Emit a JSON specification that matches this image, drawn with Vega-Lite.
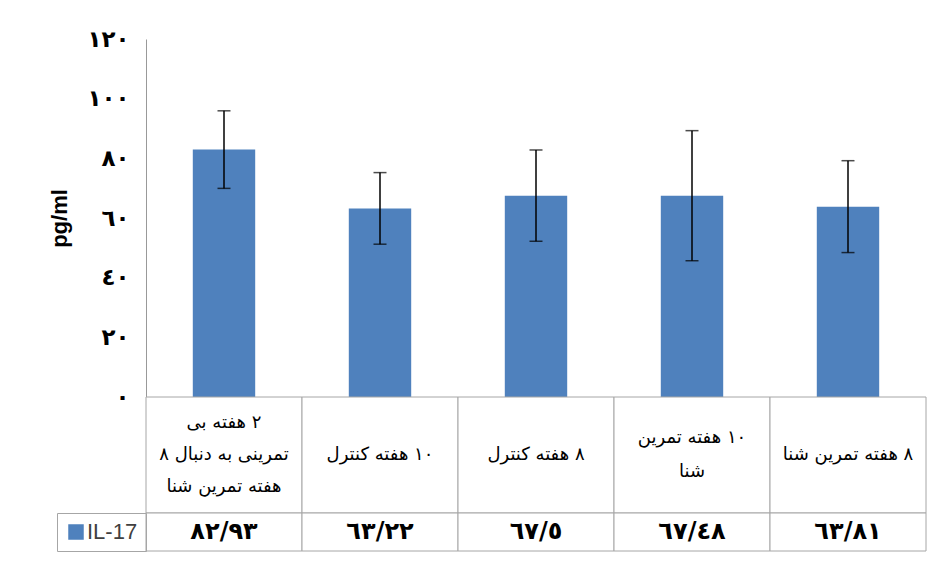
{
  "$schema": "https://vega.github.io/schema/vega-lite/v6.json",
  "background": "white",
  "padding": {"left": 48, "top": 28, "right": 5, "bottom": 5},
  "spacing": 0,
  "bounds": "flush",
  "resolve": {"legend": {"color": "independent"}, "scale": {"color": "independent"}},
  "config": {"view": {"stroke": null}, "concat": {"spacing": 0}},
  "datasets": {
    "il17": [
      {"group": "g1", "label": ["‏۲ هفته بی", "‏تمرینی به دنبال ۸", "‏هفته تمرین شنا"], "mean": 82.93, "err": 13.0, "valueText": "٨٢/٩٣", "series": "IL-17"},
      {"group": "g2", "label": "‏۱۰ هفته کنترل", "mean": 63.22, "err": 12.0, "valueText": "٦٣/٢٢", "series": "IL-17"},
      {"group": "g3", "label": "‏۸ هفته کنترل", "mean": 67.5, "err": 15.3, "valueText": "٦٧/٥", "series": "IL-17"},
      {"group": "g4", "label": ["‏۱۰ هفته تمرین", "‏شنا"], "mean": 67.48, "err": 21.8, "valueText": "٦٧/٤٨", "series": "IL-17"},
      {"group": "g5", "label": "‏۸ هفته تمرین شنا", "mean": 63.81, "err": 15.4, "valueText": "٦٣/٨١", "series": "IL-17"}
    ]
  },
  "data": {"name": "il17"},
  "vconcat": [
    {
      "width": 780,
      "height": 358,
      "layer": [
        {
          "mark": {"type": "bar", "color": "#4F81BD", "width": {"band": 0.4}},
          "encoding": {
            "x": {"field": "group", "type": "nominal", "sort": null, "axis": null, "scale": {"paddingInner": 0, "paddingOuter": 0}},
            "y": {
              "field": "mean", "type": "quantitative",
              "title": "pg/ml",
              "scale": {"domain": [0, 120]},
              "axis": {
                "title": "pg/ml",
                "values": [0, 20, 40, 60, 80, 100, 120],
                "labelExpr": "datum.value == 0 ? '٠' : datum.value == 20 ? '٢٠' : datum.value == 40 ? '٤٠' : datum.value == 60 ? '٦٠' : datum.value == 80 ? '٨٠' : datum.value == 100 ? '١٠٠' : '١٢٠'",
                "grid": false,
                "ticks": false,
                "domainColor": "#999999",
                "domainWidth": 1,
                "labelFont": "DejaVu Sans",
                "labelFontSize": 23,
                "labelFontWeight": "bold",
                "labelColor": "black",
                "labelPadding": 17,
                "titleFont": "Liberation Sans",
                "titleFontSize": 22,
                "titleFontWeight": "bold",
                "titleColor": "black",
                "titlePadding": 15
              }
            }
          }
        },
        {
          "mark": {"type": "errorbar", "ticks": {"size": 13, "color": "black", "thickness": 1.5}, "rule": {"color": "black", "strokeWidth": 1.5}},
          "encoding": {
            "x": {"field": "group", "type": "nominal", "sort": null, "scale": {"paddingInner": 0, "paddingOuter": 0}},
            "y": {"field": "mean", "type": "quantitative", "title": "pg/ml"},
            "yError": {"field": "err"}
          }
        }
      ]
    },
    {
      "width": 780,
      "height": 116,
      "layer": [
        {
          "mark": {"type": "rect", "fill": "white", "stroke": "#A6A6A6", "strokeWidth": 1},
          "encoding": {
            "x": {"field": "group", "type": "nominal", "sort": null, "axis": null, "scale": {"paddingInner": 0, "paddingOuter": 0}}
          }
        },
        {
          "transform": [{"filter": "!isArray(datum.label)"}],
          "mark": {"type": "text", "font": "DejaVu Sans", "fontSize": 18, "color": "black", "lineHeight": 33, "align": "center", "baseline": "middle"},
          "encoding": {
            "x": {"field": "group", "type": "nominal", "sort": null, "axis": null, "scale": {"paddingInner": 0, "paddingOuter": 0}},
            "text": {"field": "label"}
          }
        },
        {
          "transform": [{"filter": "isArray(datum.label) && length(datum.label) == 2"}],
          "mark": {"type": "text", "font": "DejaVu Sans", "fontSize": 18, "color": "black", "lineHeight": 34, "align": "center", "baseline": "middle", "dy": -17},
          "encoding": {
            "x": {"field": "group", "type": "nominal", "sort": null, "axis": null, "scale": {"paddingInner": 0, "paddingOuter": 0}},
            "text": {"field": "label"}
          }
        },
        {
          "transform": [{"filter": "isArray(datum.label) && length(datum.label) == 3"}],
          "mark": {"type": "text", "font": "DejaVu Sans", "fontSize": 18, "color": "black", "lineHeight": 32, "align": "center", "baseline": "middle", "dy": -32},
          "encoding": {
            "x": {"field": "group", "type": "nominal", "sort": null, "axis": null, "scale": {"paddingInner": 0, "paddingOuter": 0}},
            "text": {"field": "label"}
          }
        }
      ]
    },
    {
      "width": 780,
      "height": 38,
      "layer": [
        {
          "mark": {"type": "rect", "fill": "white", "stroke": "#A6A6A6", "strokeWidth": 1},
          "encoding": {
            "x": {"field": "group", "type": "nominal", "sort": null, "axis": null, "scale": {"paddingInner": 0, "paddingOuter": 0}}
          }
        },
        {
          "mark": {"type": "text", "font": "DejaVu Sans", "fontSize": 24, "fontWeight": "bold", "color": "black", "align": "center", "baseline": "middle"},
          "encoding": {
            "x": {"field": "group", "type": "nominal", "sort": null, "axis": null, "scale": {"paddingInner": 0, "paddingOuter": 0}},
            "text": {"field": "valueText"}
          }
        },
        {
          "mark": {"type": "square", "opacity": 0},
          "encoding": {
            "x": {"field": "group", "type": "nominal", "sort": null, "axis": null, "scale": {"paddingInner": 0, "paddingOuter": 0}},
            "color": {
              "field": "series", "type": "nominal",
              "scale": {"range": ["#4F81BD"]},
              "legend": {
                "orient": "left",
                "title": null,
                "offset": 0,
                "padding": 8,
                "strokeColor": "#A6A6A6",
                "symbolType": "square",
                "symbolSize": 196,
                "symbolOffset": 0,
                "labelOffset": 0,
                "labelFont": "Liberation Sans",
                "labelFontSize": 22,
                "labelColor": "#404040",
                "encode": {"symbols": {"update": {"opacity": {"value": 1}, "fill": {"value": "#4F81BD"}, "stroke": {"value": "#4F81BD"}}}}
              }
            }
          }
        }
      ]
    }
  ]
}
